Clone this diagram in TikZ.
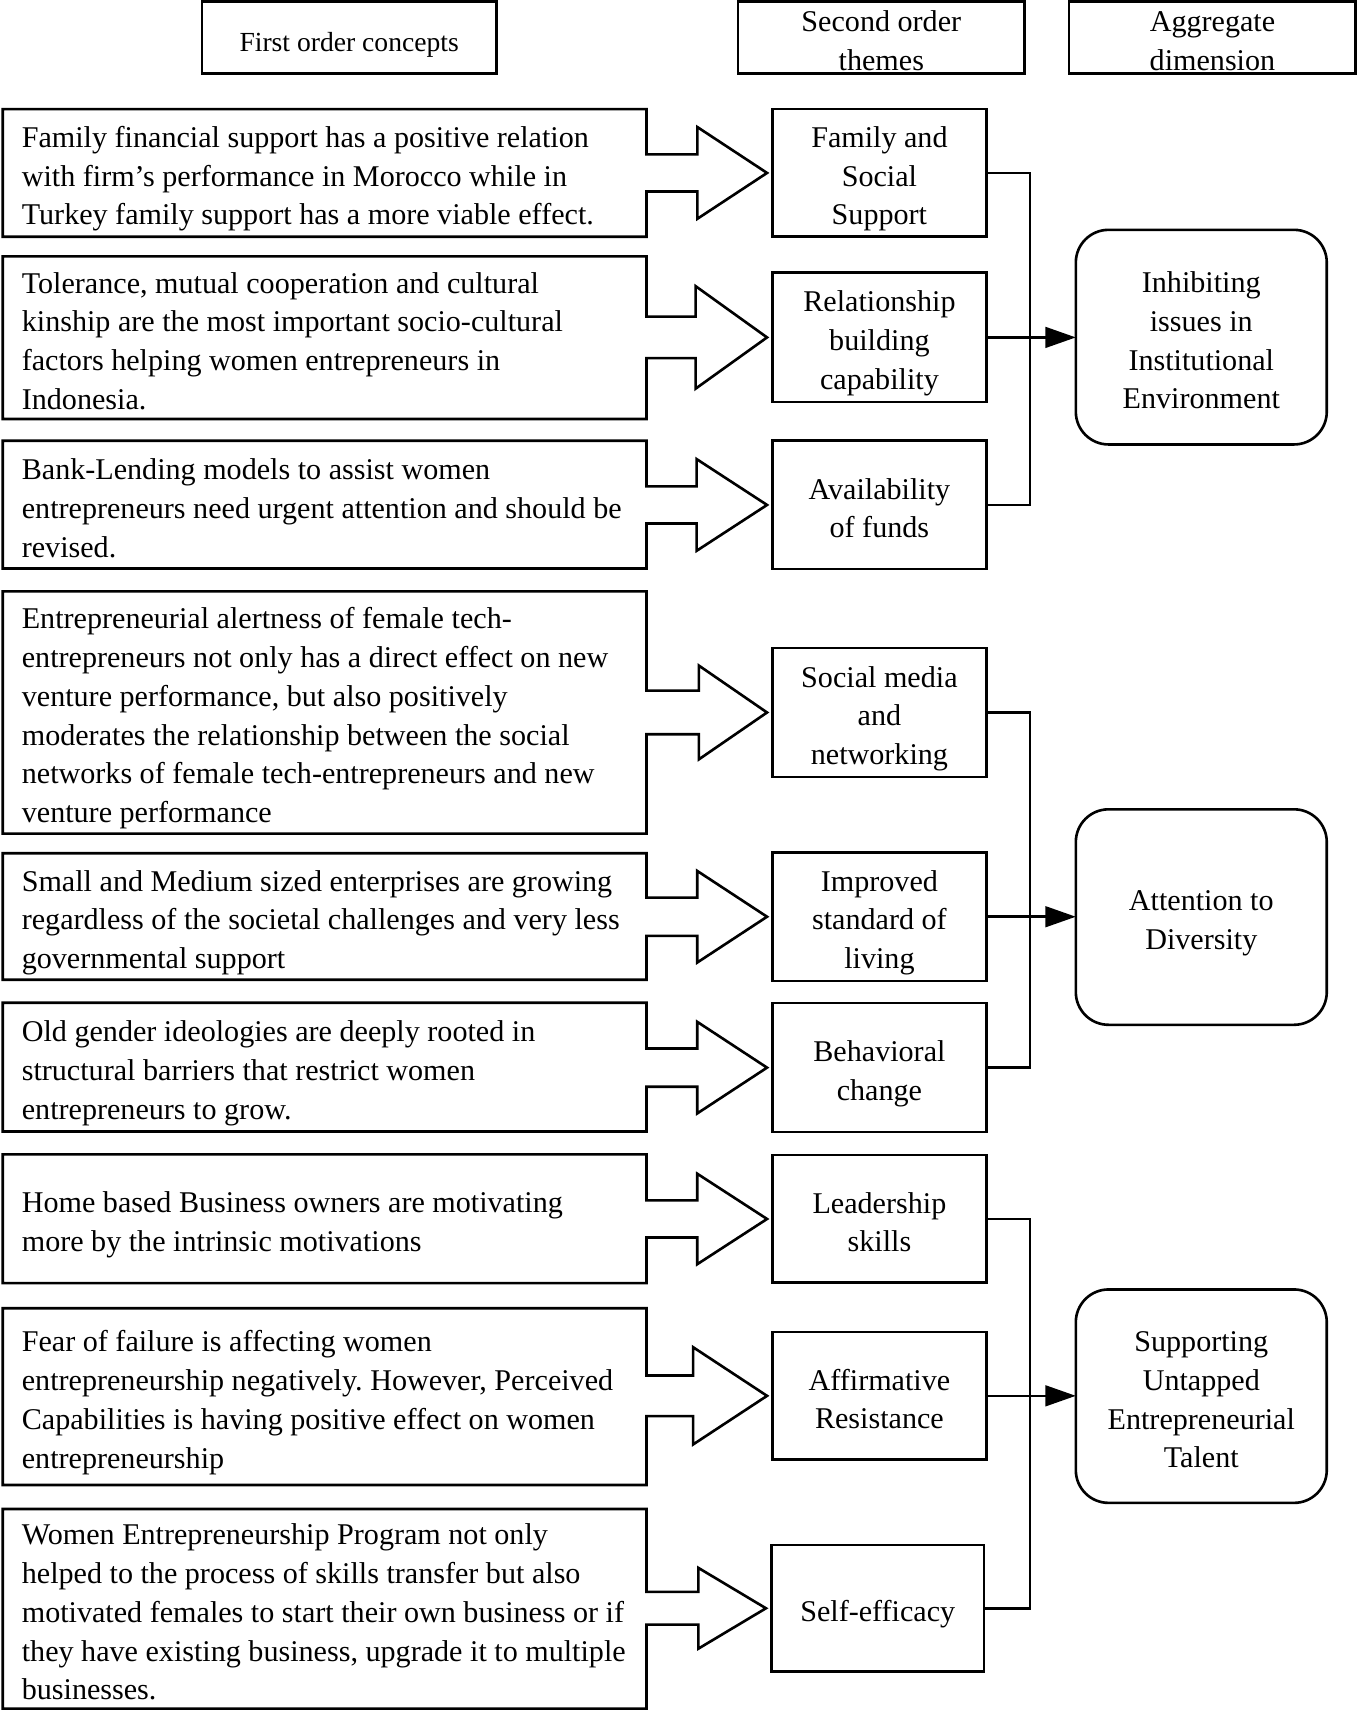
\documentclass[tikz,border=0pt]{standalone}
\usepackage{fontspec}
\setmainfont{Liberation Serif}
\usetikzlibrary{arrows.meta,calc}
\frenchspacing
\lineskiplimit=-100pt
\newcommand{\ST}{\rule[-5.25pt]{0pt}{35.5pt}}
\newcommand{\carrow}[5]{%
  \draw[boxline] let \p1=(#1.east), \p2=(#2.west) in
    (#1.south east) -- (#1.south west) -- (#1.north west) -- (#1.north east)
    -- (\x1,\y2+#3) -- (\x1+#5,\y2+#3) -- (\x1+#5,\y2+#4) -- (\x2-5pt,\y2)
    -- (\x1+#5,\y2-#4) -- (\x1+#5,\y2-#3) -- (\x1,\y2-#3) -- cycle;}
\begin{document}
\begin{tikzpicture}[x=1pt,y=-1pt,
  every node/.style={outer sep=0pt},
  mainfont/.style={font=\fontsize{27.6}{35.5}\selectfont},
  boxline/.style={line width=2.4pt},
  link/.style={line width=2.4pt},
  cbox/.style={minimum width=590pt, minimum height=#1, inner sep=0pt},
  ctext/.style={mainfont, anchor=west, align=left, inner sep=0pt},
  tbox/.style={mainfont, draw, line width=2.4pt, minimum width=196pt, minimum height=#1, align=center, inner sep=0pt},
  abox/.style={mainfont, draw, line width=2.4pt, rounded corners=30pt, minimum width=230pt, minimum height=#1, align=center, inner sep=0pt},
  hbox/.style={draw, line width=2.2pt, minimum height=66pt, minimum width=#1, inner sep=0pt},
  htext/.style={mainfont, align=center, inner sep=0pt},
  tip/.style={-{Triangle[length=28pt,width=19pt]}}
  ]
\useasboundingbox (0,0) rectangle (1245,1570);

% headers
\node[hbox=270pt] (h1) at (320,34.5) {};
\node[htext, font=\fontsize{25.3}{35.5}\selectfont] (h1t) at (h1) {\ST First order concepts};
\node[hbox=262.5pt] (h2) at (807.75,34.5) {};
\node[htext] (h2t) at (h2) {\ST Second order\\\ST themes};
\node[hbox=262.5pt] (h3) at (1111.25,34.5) {};
\node[htext] (h3t) at (h3) {\ST Aggregate\\\ST dimension};

% concept boxes (outline drawn with arrows below)
\node[cbox=117pt] (c1) at (297.5,158.5) {};
\node[cbox=149pt] (c2) at (297.5,309.5) {};
\node[cbox=117pt] (c3) at (297.5,462.5) {};
\node[cbox=222pt] (c4) at (297.5,653) {};
\node[cbox=116pt] (c5) at (297.5,840) {};
\node[cbox=118pt] (c6) at (297.5,978) {};
\node[cbox=118pt] (c7) at (297.5,1117) {};
\node[cbox=162pt] (c8) at (297.5,1280) {};
\node[cbox=183pt] (c9) at (297.5,1474.5) {};

\node[ctext] (c1t) at ([xshift=17.5pt]c1.west) {\ST Family financial support has a positive relation\\\ST with firm’s performance in Morocco while in\\\ST Turkey family support has a more viable effect.};
\node[ctext] (c2t) at ([xshift=17.5pt]c2.west) {\ST Tolerance, mutual cooperation and cultural\\\ST kinship are the most important socio-cultural\\\ST factors helping women entrepreneurs in\\\ST Indonesia.};
\node[ctext] (c3t) at ([xshift=17.5pt]c3.west) {\ST Bank-Lending models to assist women\\\ST entrepreneurs need urgent attention and should be\\\ST revised.};
\node[ctext] (c4t) at ([xshift=17.5pt]c4.west) {\ST Entrepreneurial alertness of female tech-\\\ST entrepreneurs not only has a direct effect on new\\\ST venture performance, but also positively\\\ST moderates the relationship between the social\\\ST networks of female tech-entrepreneurs and new\\\ST venture performance};
\node[ctext] (c5t) at ([xshift=17.5pt]c5.west) {\ST Small and Medium sized enterprises are growing\\\ST regardless of the societal challenges and very less\\\ST governmental support};
\node[ctext] (c6t) at ([xshift=17.5pt]c6.west) {\ST Old gender ideologies are deeply rooted in\\\ST structural barriers that restrict women\\\ST entrepreneurs to grow.};
\node[ctext] (c7t) at ([xshift=17.5pt]c7.west) {\ST Home based Business owners are motivating\\\ST more by the intrinsic motivations};
\node[ctext] (c8t) at ([xshift=17.5pt]c8.west) {\ST Fear of failure is affecting women\\\ST entrepreneurship negatively. However, Perceived\\\ST Capabilities is having positive effect on women\\\ST entrepreneurship};
\node[ctext] (c9t) at ([xshift=17.5pt]c9.west) {\ST Women Entrepreneurship Program not only\\\ST helped to the process of skills transfer but also\\\ST motivated females to start their own business or if\\\ST they have existing business, upgrade it to multiple\\\ST businesses.};

% theme boxes
\node[tbox=117pt] (t1) at (806,158.5) {\ST Family and\\\ST Social\\\ST Support};
\node[tbox=118.5pt] (t2) at (806,309.25) {\ST Relationship\\\ST building\\\ST capability};
\node[tbox=117.6pt] (t3) at (806,462.8) {\ST Availability\\\ST of funds};
\node[tbox=118pt] (t4) at (806,653) {\ST Social media\\\ST and\\\ST networking};
\node[tbox=117.6pt] (t5) at (806,840.2) {\ST Improved\\\ST standard of\\\ST living};
\node[tbox=118.3pt] (t6) at (806,978.5) {\ST Behavioral\\\ST change};
\node[tbox=117pt] (t7) at (806,1117.2) {\ST Leadership\\\ST skills};
\node[tbox=116.7pt] (t8) at (806,1279.3) {\ST Affirmative\\\ST Resistance};
\node[tbox=116pt, minimum width=195pt] (t9) at (804.5,1474) {\ST Self-efficacy};

% aggregate boxes
\node[abox=196.7pt] (r1) at (1101,309) {\ST Inhibiting\\\ST issues in\\\ST Institutional\\\ST Environment};
\node[abox=197.5pt] (r2) at (1101,840.5) {\ST Attention to\\\ST Diversity};
\node[abox=195.6pt] (r3) at (1101,1279.6) {\ST Supporting\\\ST Untapped\\\ST Entrepreneurial\\\ST Talent};

% block arrows merged with concept boxes
\carrow{c1}{t1}{17pt}{42pt}{46.7pt}
\carrow{c2}{t2}{19pt}{47pt}{45pt}
\carrow{c3}{t3}{17pt}{42pt}{46pt}
\carrow{c4}{t4}{20pt}{43pt}{48pt}
\carrow{c5}{t5}{17.5pt}{42pt}{46.5pt}
\carrow{c6}{t6}{17.5pt}{42pt}{46.5pt}
\carrow{c7}{t7}{17pt}{41.5pt}{46.5pt}
\carrow{c8}{t8}{18.6pt}{44.6pt}{42.7pt}
\carrow{c9}{t9}{15pt}{37pt}{47.6pt}

% connectors to aggregate dimensions
\draw[link] (t1.east) -- ++(40,0) |- (t3.east);
\draw[link, tip] (t2.east) -- (t2.east -| r1.west);
\draw[link] (t4.east) -- ++(40,0) |- (t6.east);
\draw[link, tip] (t5.east) -- (t5.east -| r2.west);
\draw[link] (t7.east) -- ++(40,0) |- (t9.east);
\draw[link, tip] (t8.east) -- (t8.east -| r3.west);
\end{tikzpicture}
\end{document}
